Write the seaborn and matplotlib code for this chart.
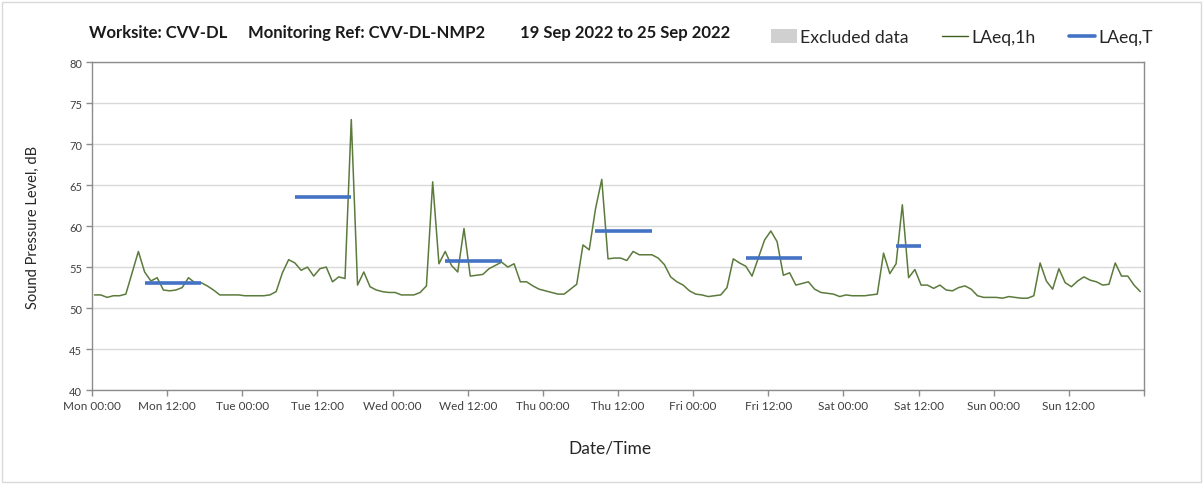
import numpy as np
import pandas as pd
import matplotlib
matplotlib.use("Agg")
import matplotlib.pyplot as plt
import seaborn as sns
from matplotlib.patches import Patch, Rectangle
from matplotlib.lines import Line2D

# ---------------- data ----------------
day_names = ["Mon", "Tue", "Wed", "Thu", "Fri", "Sat", "Sun"]
tick_labels = [f"{d} {h}" for d in day_names for h in ("00:00", "12:00")] + [""]
title_parts = ["Worksite: CVV-DL", "Monitoring Ref: CVV-DL-NMP2", "19 Sep 2022 to 25 Sep 2022"]

laeq_1h = [
    51.6, 51.6, 51.3, 51.5, 51.5, 51.7, 54.3, 56.9, 54.4, 53.3, 53.7, 52.2,
    52.1, 52.2, 52.5, 53.7, 53.1, 53.1, 52.7, 52.2, 51.6, 51.6, 51.6, 51.6,
    51.5, 51.5, 51.5, 51.5, 51.6, 52.0, 54.3, 55.9, 55.5, 54.6, 55.0, 53.9,
    54.8, 55.0, 53.2, 53.8, 53.6, 73.0, 52.8, 54.4, 52.6, 52.2, 52.0, 51.9,
    51.9, 51.6, 51.6, 51.6, 51.9, 52.7, 65.4, 55.4, 56.9, 55.2, 54.4, 59.7,
    53.9, 54.0, 54.1, 54.8, 55.2, 55.6, 55.0, 55.4, 53.2, 53.2, 52.7, 52.3,
    52.1, 51.9, 51.7, 51.7, 52.3, 52.9, 57.7, 57.1, 62.1, 65.7, 56.0, 56.1,
    56.1, 55.8, 56.9, 56.5, 56.5, 56.5, 56.1, 55.3, 53.8, 53.2, 52.8, 52.1,
    51.7, 51.6, 51.4, 51.5, 51.6, 52.5, 56.0, 55.5, 55.1, 53.9, 56.1, 58.3,
    59.4, 58.1, 54.0, 54.3, 52.8, 53.0, 53.2, 52.3, 51.9, 51.8, 51.7, 51.4,
    51.6, 51.5, 51.5, 51.5, 51.6, 51.7, 56.7, 54.2, 55.4, 62.6, 53.7, 54.7,
    52.8, 52.8, 52.4, 52.8, 52.2, 52.1, 52.5, 52.7, 52.3, 51.5, 51.3, 51.3,
    51.3, 51.2, 51.4, 51.3, 51.2, 51.2, 51.5, 55.5, 53.3, 52.3, 54.8, 53.1,
    52.6, 53.3, 53.8, 53.4, 53.2, 52.8, 52.9, 55.5, 53.9, 53.9, 52.8, 52.0,
]

laeq_t_start = [8, 32, 56, 80, 104, 128]
laeq_t_end = [17, 41, 65, 89, 113, 132]
laeq_t_value = [53.1, 63.6, 55.8, 59.4, 56.1, 57.6]

# ---------------- style ----------------
sns.set_theme(style="white")
plt.rcParams["font.family"] = ["Lato", "DejaVu Sans"]

GREEN = "#5b7a3c"
BLUE = "#4472c4"
GRID = "#d9d9d9"
AXC = "#8c8c8c"
TXT = "#404040"

fig = plt.figure(figsize=(12.03, 4.85), dpi=100)
ax = fig.add_axes([0.0765, 0.1938, 0.8745, 0.676])

offset = 0.4
hours = np.arange(len(laeq_1h)) + offset
df = pd.DataFrame({"hour": hours, "LAeq,1h": laeq_1h})
sns.lineplot(data=df, x="hour", y="LAeq,1h", ax=ax, color=GREEN, lw=1.1, zorder=3)

ax.hlines(laeq_t_value, np.array(laeq_t_start) + offset, np.array(laeq_t_end) + offset,
          color=BLUE, lw=2.6, zorder=4)

ax.set_xlim(0, 168)
ax.set_ylim(40, 80)
ax.set_xticks(np.arange(0, 169, 12))
ax.set_xticklabels(tick_labels, fontsize=8.5, color=TXT)
ax.set_xticks(np.arange(0, 169, 24), minor=True)
ax.set_yticks(np.arange(40, 81, 5))
ax.set_yticklabels([str(v) for v in range(40, 81, 5)], fontsize=8, color=TXT)

ax.grid(which="minor", axis="x", color=GRID, lw=1)
ax.grid(which="major", axis="y", color=GRID, lw=1)
ax.grid(which="major", axis="x", visible=False)
ax.tick_params(axis="both", which="major", direction="out", length=4, width=1,
               color=AXC, pad=3, bottom=True, left=True)
ax.tick_params(axis="x", which="minor", length=0)

for s in ax.spines.values():
    s.set_color(AXC)
    s.set_linewidth(1)

ax.set_xlabel("Date/Time", fontsize=12.5, color="#262626", labelpad=20)
ax.xaxis.set_label_coords(0.492, -0.151)
ax.set_ylabel("Sound Pressure Level, dB", fontsize=10.5, color="#262626", labelpad=21)

for xpos, part in zip([0.074, 0.2062, 0.4323], title_parts):
    fig.text(xpos, 0.932, part, fontsize=12.0, fontweight="bold", color="#1a1a1a",
             va="center", ha="left")

handles = [
    Patch(facecolor="#d0d0d0", edgecolor="none", label="Excluded data"),
    Line2D([], [], color="#3f5f20", lw=1, label="LAeq,1h"),
    Line2D([], [], color=BLUE, lw=2.6, label="LAeq,T"),
]
leg = fig.legend(handles=handles, loc="center right", bbox_to_anchor=(0.958, 0.921),
                 ncol=3, frameon=False, fontsize=12.7, handlelength=1.5, handleheight=0.8,
                 handletextpad=0.15, columnspacing=1.9, borderpad=0, borderaxespad=0)
for t in leg.get_texts():
    t.set_color("#262626")

fig.add_artist(Rectangle((0.002, 0.004), 0.996, 0.99, transform=fig.transFigure,
                         fill=False, edgecolor=GRID, lw=1))

fig.savefig("out.png", dpi=100)
